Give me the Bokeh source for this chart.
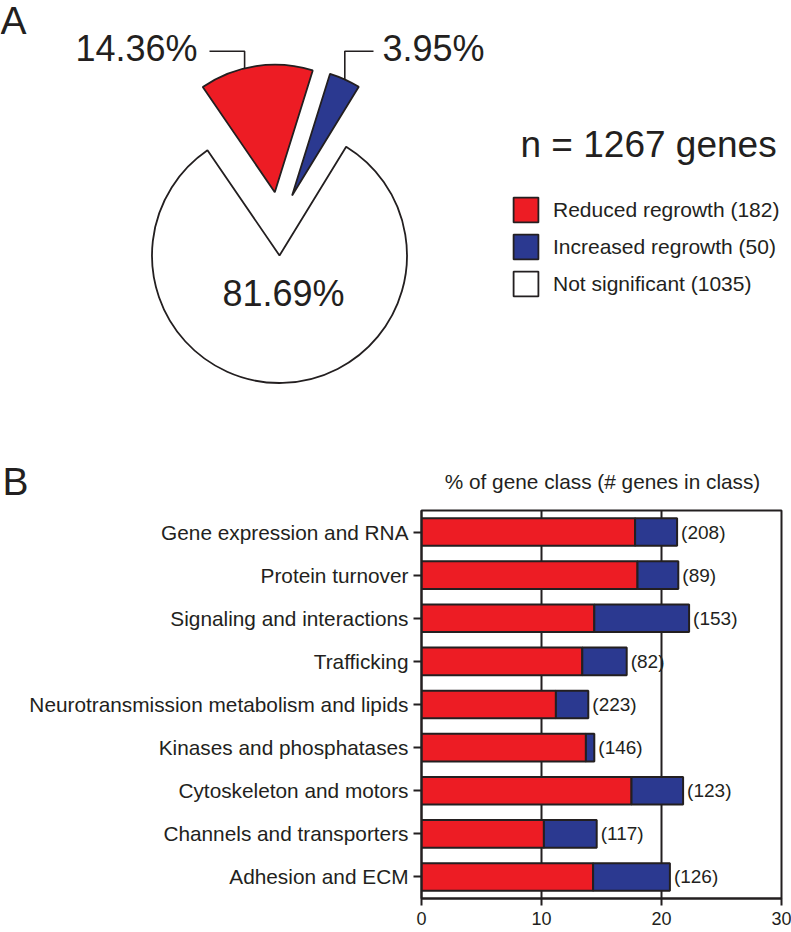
import math
from bokeh.plotting import figure
from bokeh.models import (Range1d, FactorRange, ColumnDataSource, Legend,
                          LegendItem, FixedTicker)
from bokeh.core.properties import value
from bokeh.embed import file_html
from bokeh.resources import INLINE

# ---------------- data ----------------
pie_names = ["Reduced regrowth (182)", "Increased regrowth (50)", "Not significant (1035)"]
pie_counts = [182, 50, 1035]
pie_pct_text = ["14.36%", "3.95%", "81.69%"]
n_genes = 1267

categories = [
    "Gene expression and RNA",
    "Protein turnover",
    "Signaling and interactions",
    "Trafficking",
    "Neurotransmission metabolism and lipids",
    "Kinases and phosphatases",
    "Cytoskeleton and motors",
    "Channels and transporters",
    "Adhesion and ECM",
]
reduced_pct = [17.8, 18.0, 14.4, 13.4, 11.2, 13.7, 17.5, 10.2, 14.3]
increased_pct = [3.5, 3.4, 7.9, 3.7, 2.7, 0.7, 4.3, 4.4, 6.4]
class_sizes = [208, 89, 153, 82, 223, 146, 123, 117, 126]
x_ticks = [0, 10, 20, 30]

# ---------------- style ----------------
FONT = "Liberation Sans"
INK = "#231F20"
RED = "#ED1C24"
BLUE = "#2B3990"
pie_colors = [RED, BLUE, "#FFFFFF"]

W = 791
H_TOP = 506
H_BOT = 426
BASE_FIX = 0.38  # svg baseline correction (fraction of font size)


def Y(py):
    """page-pixel y -> data y of the top figure"""
    return H_TOP - py


def base(py, size):
    return Y(py) + BASE_FIX * size


# ---------------- panel A ----------------
top = figure(width=W, height=H_TOP, x_range=Range1d(0, W), y_range=Range1d(0, H_TOP),
             output_backend="svg", toolbar_location=None, min_border=0,
             x_axis_location=None, y_axis_location=None, outline_line_color=None)
top.xgrid.visible = False
top.ygrid.visible = False

cx, cy, R = 279.0, Y(255), 127.5
start = math.radians(124.4)
explode = [(-4.7, 63.3), (12.6, 60.0), (0.0, 0.0)]

xs, ys, a0s, a1s = [], [], [], []
a = start
for c, (ex, ey) in zip(pie_counts, explode):
    span = c / n_genes * 2 * math.pi
    xs.append(cx + ex)
    ys.append(cy + ey)
    a0s.append(a)
    a1s.append(a - span)
    a -= span

pie_src = ColumnDataSource(dict(x=xs, y=ys, a0=a0s, a1=a1s, color=pie_colors, name=pie_names))
wr = top.wedge(x="x", y="y", radius=R, start_angle="a0", end_angle="a1", direction="clock",
               fill_color="color", line_color=INK, line_width=1.8, source=pie_src)

# leader lines
lead_y = Y(50.7)
ang_r = math.radians(103.7)
rx, ry = xs[0] + R * math.cos(ang_r), ys[0] + R * math.sin(ang_r)
top.line([209, rx, rx], [lead_y, lead_y, ry], line_color=INK, line_width=1.6)
ang_b = (a0s[1] + a1s[1]) / 2
bx, by = xs[1] + R * math.cos(ang_b), ys[1] + R * math.sin(ang_b)
top.line([bx, bx, 373], [by, lead_y, lead_y], line_color=INK, line_width=1.6)

txt = dict(text_font=value(FONT), text_color=INK, text_baseline="alphabetic")
top.text(x=[197], y=[base(61.7, 36)], text=[pie_pct_text[0]], text_align="right", text_font_size="36px", **txt)
top.text(x=[382], y=[base(61.7, 36)], text=[pie_pct_text[1]], text_align="left", text_font_size="36px", **txt)
top.text(x=[283], y=[base(306.7, 36)], text=[pie_pct_text[2]], text_align="center", text_font_size="36px", **txt)
top.text(x=[520], y=[base(158.3, 37)], text=[f"n = {n_genes} genes"], text_align="left", text_font_size="37px", **txt)
top.text(x=[0], y=[base(35, 39)], text=["A"], text_align="left", text_font_size="39px", **txt)
top.text(x=[2], y=[base(496, 39)], text=["B"], text_align="left", text_font_size="39px", **txt)
top.text(x=[602], y=[base(488.5, 20.8)], text=["% of gene class (# genes in class)"], text_align="center",
         text_font_size="20.8px", **txt)

legend = Legend(items=[LegendItem(label=pie_names[i], renderers=[wr], index=i) for i in range(3)],
                location=(510, Y(299)), orientation="vertical",
                glyph_width=31, glyph_height=31, spacing=6, label_standoff=12,
                label_height=31, label_text_font=FONT, label_text_font_size="21px",
                label_text_color=INK, padding=0, margin=0,
                border_line_color=None, background_fill_alpha=0)
top.add_layout(legend)

# ---------------- panel B ----------------
bot = figure(width=W, height=H_BOT, x_range=Range1d(0, 30),
             y_range=FactorRange(factors=categories[::-1], range_padding=0),
             output_backend="svg", toolbar_location=None,
             min_border_left=421, min_border_right=10, min_border_top=4, min_border_bottom=34)

totals = [r + i for r, i in zip(reduced_pct, increased_pct)]
src = ColumnDataSource(dict(cat=categories, red=reduced_pct, total=totals,
                            lab=[f"({n})" for n in class_sizes]))
bot.hbar(y="cat", left=0, right="red", height=0.64, fill_color=RED, line_color=INK,
         line_width=2, source=src)
bot.hbar(y="cat", left="red", right="total", height=0.64, fill_color=BLUE, line_color=INK,
         line_width=2, source=src)
bot.text(x="total", y="cat", text="lab", x_offset=4, text_align="left", text_baseline="middle",
         text_font=value(FONT), text_font_size="19px", text_color=INK, source=src)

bot.xaxis.ticker = FixedTicker(ticks=x_ticks)
bot.xaxis.major_tick_in = 0
bot.xaxis.major_tick_out = 7
bot.xaxis.minor_tick_in = 0
bot.xaxis.minor_tick_out = 0
bot.xaxis.major_label_standoff = 6
bot.xaxis.major_label_text_font = FONT
bot.xaxis.major_label_text_font_size = "18px"
bot.xaxis.major_label_text_color = INK

bot.yaxis.major_tick_in = 0
bot.yaxis.major_tick_out = 8
bot.yaxis.major_label_standoff = 5
bot.yaxis.major_label_text_font = FONT
bot.yaxis.major_label_text_font_size = "20.8px"
bot.yaxis.major_label_text_color = INK

for ax in (bot.xaxis, bot.yaxis):
    ax.axis_line_color = INK
    ax.axis_line_width = 2
    ax.major_tick_line_color = INK
    ax.major_tick_line_width = 2

bot.xgrid.ticker = FixedTicker(ticks=[10, 20])
bot.xgrid.grid_line_color = INK
bot.xgrid.grid_line_width = 2
bot.ygrid.visible = False
bot.outline_line_color = INK
bot.outline_line_width = 2
bot.outline_line_alpha = 1

open("out.html", "w").write(file_html([top, bot], INLINE))
